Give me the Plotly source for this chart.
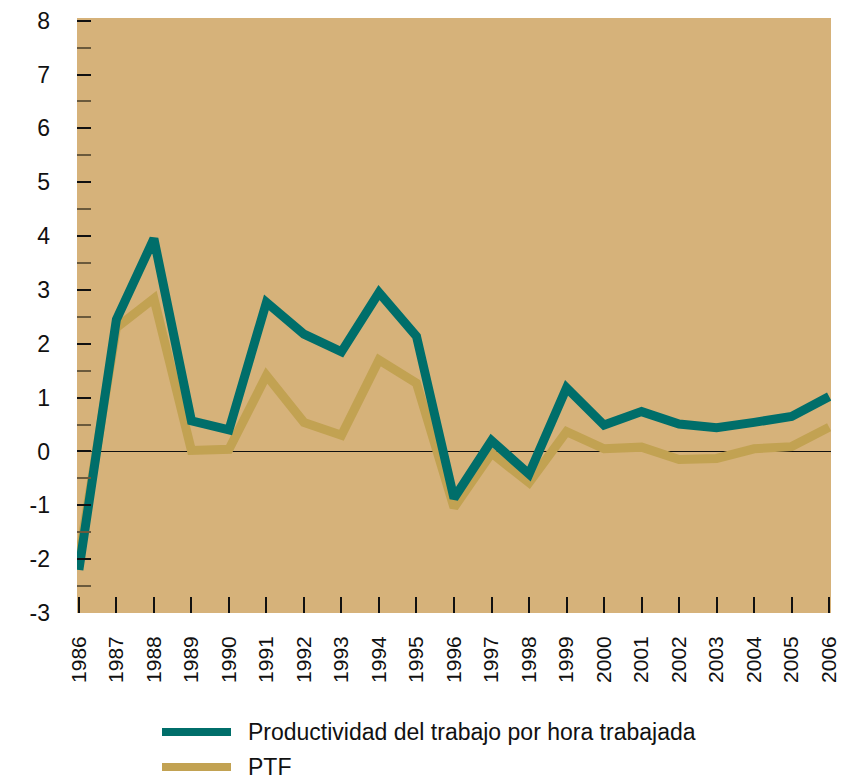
import plotly.graph_objects as go

years = list(range(1986, 2007))
productividad = [-2.2, 2.45, 3.95, 0.57, 0.40, 2.77, 2.18, 1.85, 2.95, 2.14, -0.87, 0.20,
                 -0.42, 1.18, 0.49, 0.74, 0.51, 0.44, 0.54, 0.65, 1.02]
ptf = [-2.0, 2.30, 2.84, 0.02, 0.04, 1.41, 0.54, 0.30, 1.70, 1.27, -1.04, -0.03,
       -0.58, 0.37, 0.05, 0.08, -0.15, -0.13, 0.05, 0.09, 0.45]
series_names = ["Productividad del trabajo por hora trabajada", "PTF"]
y_ticks = list(range(-3, 9))

TEAL = "#006E6A"
GOLD = "#C2A252"
BG = "#D6B27A"

# page offset (default body margin of the html page)
OFF = 8
W, H = 845 - OFF, 779 - OFF
# plot area in page pixels, converted to figure pixels
L, R, T, B = 77 - OFF, 831 - OFF, 18 - OFF, 613 - OFF
PW, PH = R - L, B - T

fig = go.Figure()
fig.add_trace(go.Scatter(x=years, y=ptf, mode="lines", name=series_names[1],
                         line=dict(color=GOLD, width=9), showlegend=False))
fig.add_trace(go.Scatter(x=years, y=productividad, mode="lines", name=series_names[0],
                         line=dict(color=TEAL, width=9), showlegend=False))

# manual legend (swatch + label), positions in page pixels
legend_rows = [(series_names[0], TEAL, 732), (series_names[1], GOLD, 767)]
shapes = []
for name, color, ypx in legend_rows:
    yp = (B - (ypx - OFF)) / PH
    shapes.append(dict(type="line", xref="paper", yref="paper",
                       x0=(162 - OFF - L) / PW, x1=(231 - OFF - L) / PW, y0=yp, y1=yp,
                       line=dict(color=color, width=8)))
    fig.add_annotation(xref="paper", yref="paper", x=(246 - OFF - L) / PW, y=yp,
                       text=name, showarrow=False, xanchor="left", yanchor="middle",
                       font=dict(family="Liberation Sans, Arial, sans-serif",
                                 size=23, color="#111111"))
fig.update_layout(shapes=shapes)

fig.update_layout(
    width=W, height=H,
    margin=dict(l=L, r=W - R, t=T, b=H - B, autoexpand=False),
    paper_bgcolor="white",
    plot_bgcolor=BG,
    showlegend=False,
    font=dict(family="Liberation Sans, Arial, sans-serif", color="#111111"),
    xaxis=dict(
        range=[1985.95, 2006.05],
        tickmode="array", tickvals=years, ticktext=[str(y) for y in years],
        tickangle=-90, ticks="inside", ticklen=16, tickwidth=2, tickcolor="#111111",
        tickfont=dict(size=21), ticklabelstandoff=18, ticklabeloverflow="allow",
        showgrid=False, zeroline=False, showline=False, automargin=False,
    ),
    yaxis=dict(
        range=[-3, 8.05],
        tickmode="array", tickvals=y_ticks, ticktext=[str(v) for v in y_ticks],
        ticks="inside", ticklen=14, tickwidth=2, tickcolor="#111111",
        tickfont=dict(size=23), ticklabelstandoff=26, ticklabeloverflow="allow",
        minor=dict(ticks="inside", dtick=0.5, ticklen=14, tickwidth=1.5, tickcolor="#6b5a3c"),
        showgrid=False, zeroline=True, zerolinecolor="#111111", zerolinewidth=1.2,
        showline=False, automargin=False,
    ),
)

fig.write_html("out.html")
